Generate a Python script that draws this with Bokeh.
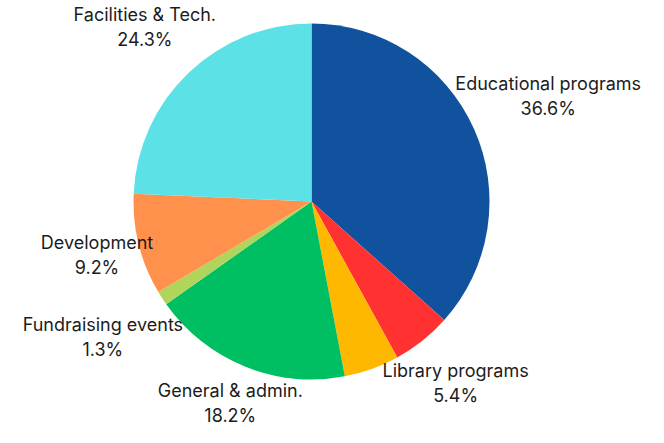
import math
from bokeh.plotting import figure
from bokeh.models import ColumnDataSource
from bokeh.core.properties import value
from bokeh.embed import file_html
from bokeh.resources import INLINE

categories = ["Educational programs", "Library programs", "Other", "General & admin.",
              "Fundraising events", "Development", "Facilities & Tech."]
shares = [36.6, 5.4, 5.0, 18.2, 1.3, 9.2, 24.3]
show_label = [True, True, False, True, True, True, True]
colors = ["#11529F", "#FF3131", "#FFB800", "#00BF63", "#B0D55A", "#FF914D", "#5CE1E6"]

W, H = 648, 427
cx, cy, r = 311, 226, 178
label_gap = 167
font = "Inter"
fsize = 18
line_half = 12.5

total = sum(shares)
starts, ends, mids = [], [], []
acc = 0.0
for s in shares:
    a0 = acc / total
    acc += s
    a1 = acc / total
    starts.append(math.pi / 2 - 2 * math.pi * a0)
    ends.append(math.pi / 2 - 2 * math.pi * a1)
    mids.append(2 * math.pi * (a0 + a1) / 2)

src = ColumnDataSource(dict(start=starts, end=ends, color=colors, cat=categories))

p = figure(width=W, height=H, x_range=(0, W), y_range=(0, H), output_backend="svg",
           toolbar_location=None, min_border=0)
p.axis.visible = False
p.grid.visible = False
p.outline_line_color = None
p.background_fill_color = "white"
p.border_fill_color = "white"

p.wedge(x=cx, y=cy, radius=r, start_angle="start", end_angle="end", direction="clock",
        fill_color="color", line_color=None, source=src)

lx, ly_name, ly_pct, names, pcts = [], [], [], [], []
for cat, s, m, show in zip(categories, shares, mids, show_label):
    if not show:
        continue
    w = len(cat) * 9.0
    h = 50
    sx, sy = math.sin(m), math.cos(m)
    d = label_gap + abs(w / 2 * sx) + abs(h / 2 * sy)
    x = cx + d * sx
    y = cy + d * sy
    lx.append(x)
    ly_name.append(y + line_half)
    ly_pct.append(y - line_half)
    names.append(cat)
    pcts.append(f"{s:.1f}%")

p.text(x=lx, y=ly_name, text=names, text_align="center", text_baseline="middle",
       text_font=value(font), text_font_size=f"{fsize}px", text_color="#1c1c1c")
p.text(x=lx, y=ly_pct, text=pcts, text_align="center", text_baseline="middle",
       text_font=value(font), text_font_size=f"{fsize}px", text_color="#1c1c1c")

open("out.html", "w").write(file_html(p, INLINE))
